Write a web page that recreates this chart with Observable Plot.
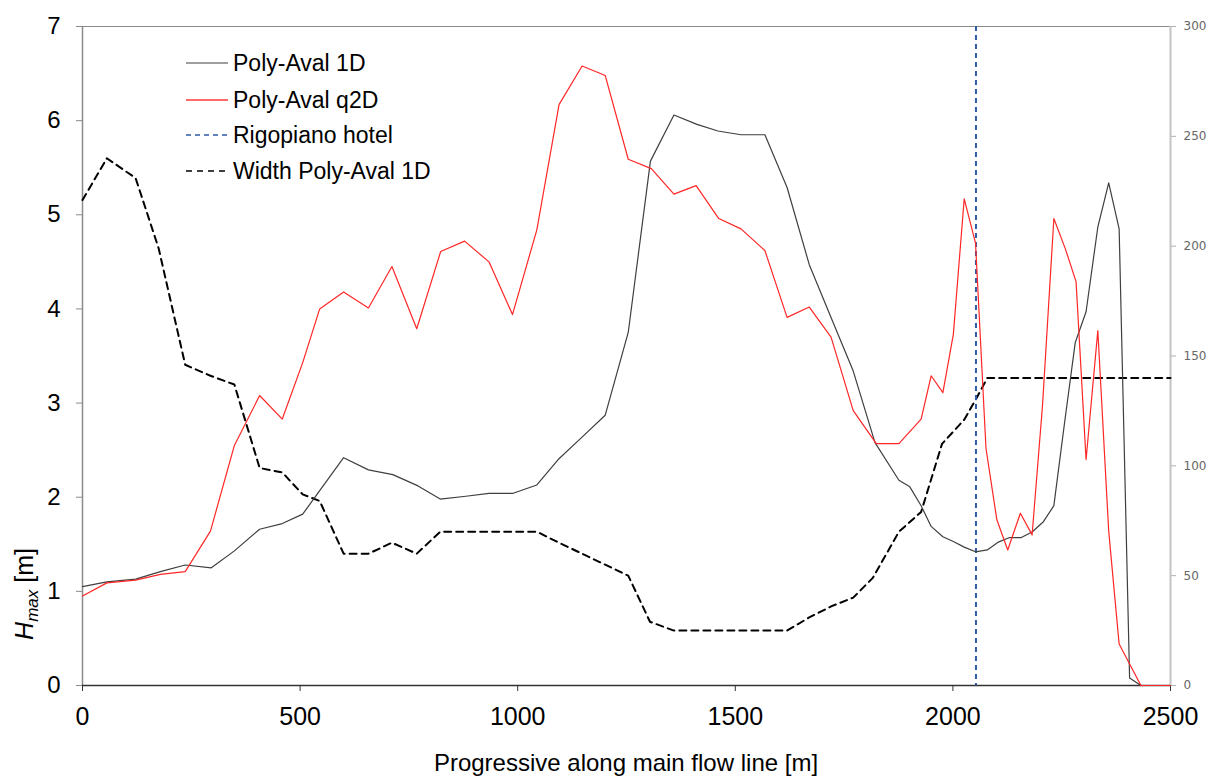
<!DOCTYPE html>
<html>
<head>
<meta charset="utf-8">
<script src="https://cdn.jsdelivr.net/npm/d3@7"></script>
<script src="https://cdn.jsdelivr.net/npm/@observablehq/plot@0.6"></script>
<style>
  body { margin: 0; background: #fff; }
  #chart { position: relative; width: 1209px; height: 778px; }
</style>
</head>
<body>
<div id="chart"></div>
<script>
// ---- Data ----
const xs1D = [0,56,122,179,236,296,349,407,459,506,545,600,657,713,771,822,881,934,988,1044,1093,1146,1201,1254,1305,1359,1412,1460,1513,1568,1619,1670,1720,1771,1821,1876,1901,1927,1950,1977,2001,2026,2052,2079,2103,2129,2156,2182,2208,2232,2256,2281,2306,2333,2358,2382,2406,2432];
const h1D  = [1.05,1.10,1.13,1.21,1.28,1.25,1.43,1.66,1.72,1.82,2.07,2.42,2.29,2.24,2.12,1.98,2.01,2.04,2.04,2.13,2.40,2.63,2.87,3.75,5.57,6.06,5.96,5.89,5.85,5.85,5.29,4.47,3.91,3.34,2.58,2.18,2.11,1.91,1.69,1.58,1.53,1.47,1.42,1.44,1.52,1.57,1.57,1.63,1.74,1.91,2.77,3.64,3.97,4.87,5.34,4.85,0.08,0];

const xs2D = [0,56,122,179,236,294,349,407,459,506,545,600,657,711,768,823,878,934,988,1044,1095,1148,1201,1254,1307,1359,1410,1462,1513,1568,1619,1670,1720,1771,1824,1876,1927,1950,1977,2001,2026,2052,2076,2101,2126,2155,2182,2206,2232,2259,2283,2306,2333,2358,2382,2432,2500];
const h2D  = [0.95,1.09,1.12,1.18,1.21,1.64,2.55,3.08,2.83,3.43,4.00,4.18,4.01,4.45,3.79,4.61,4.72,4.50,3.94,4.84,6.17,6.58,6.48,5.59,5.49,5.22,5.31,4.96,4.85,4.62,3.91,4.02,3.70,2.92,2.57,2.57,2.83,3.29,3.11,3.73,5.17,4.70,2.52,1.76,1.44,1.83,1.60,2.98,4.96,4.63,4.29,2.40,3.77,1.64,0.44,0,0];

const xsW = [0,56,122,175,236,294,349,407,459,506,545,600,657,711,768,822,1044,1095,1148,1201,1254,1304,1359,1619,1670,1720,1771,1816,1876,1927,1975,2026,2052,2079,2500];
const wW  = [221,240,231,199,146,141,137,99,97,87,84,60,60,65,60,70,70,65,60,55,50,29,25,25,31,36,40,49,70,79,110,121,130,140,140];

const hotelX = [2053];

const xTicks = [0,500,1000,1500,2000,2500];
const yTicks = [0,1,2,3,4,5,6,7];
const wTicks = [0,50,100,150,200,250,300];

const legendLabels = ["Poly-Aval 1D","Poly-Aval q2D","Rigopiano hotel","Width Poly-Aval 1D"];
const xLabel = "Progressive along main flow line [m]";

// ---- Build ----
const H_MAX = 7, W_MAX = 300;
const toY = w => w * H_MAX / W_MAX;
const d1 = xs1D.map((x, i) => ({x, y: h1D[i]}));
const d2 = xs2D.map((x, i) => ({x, y: h2D[i]}));
const dw = xsW.map((x, i) => ({x, y: toY(wW[i])}));

const C1 = "#3f3f3f", C2 = "#ff2626", CH = "#2f5aa8", CW = "#000";
const FONT = "Liberation Sans, Arial, Helvetica, sans-serif";

const plot = Plot.plot({
  width: 1209, height: 778,
  marginLeft: 82, marginRight: 39, marginTop: 26, marginBottom: 93,
  x: {domain: [0, 2500]},
  y: {domain: [0, H_MAX]},
  style: {fontFamily: FONT, fontSize: "24px", color: "#000", background: "#fff"},
  marks: [
    Plot.ruleY([H_MAX], {stroke: "#8a8a8a", strokeWidth: 1.2}),
    Plot.ruleX([0], {stroke: "#8a8a8a", strokeWidth: 1.5}),
    Plot.ruleX([2500], {stroke: "#c4c4c4", strokeWidth: 2}),
    Plot.axisY({ticks: yTicks, tickFormat: d => String(d), tickSize: 6, tickPadding: 16, label: null, stroke: "#8a8a8a", fill: "#000", fontSize: 24, fontFamily: FONT}),
    Plot.axisY({anchor: "right", ticks: wTicks.map(toY), tickFormat: d => String(Math.round(d * W_MAX / H_MAX)), tickSize: 5, tickPadding: 8, label: null, stroke: "#b0b0b0", fill: "#666", fontSize: 12, fontFamily: "DejaVu Sans, Verdana, sans-serif"}),
    Plot.axisX({ticks: xTicks, tickFormat: d => String(d), tickSize: 6, tickPadding: 16, label: null, stroke: "#333", fill: "#000", fontSize: 25, fontFamily: FONT}),
    Plot.ruleY([0], {stroke: "#333", strokeWidth: 1.5}),
    Plot.line(dw, {x: "x", y: "y", stroke: CW, strokeWidth: 2, strokeDasharray: "7,5"}),
    Plot.ruleX(hotelX, {stroke: CH, strokeWidth: 2, strokeDasharray: "5,4"}),
    Plot.line(d1, {x: "x", y: "y", stroke: C1, strokeWidth: 1.2}),
    Plot.line(d2, {x: "x", y: "y", stroke: C2, strokeWidth: 1.2})
  ]
});

document.getElementById("chart").appendChild(plot);

// ---- Extra text: axis titles and legend ----
const svg = d3.select(plot);
svg.append("text")
  .attr("x", 626).attr("y", 771)
  .attr("text-anchor", "middle")
  .attr("font-family", FONT).attr("font-size", 24).attr("fill", "#000")
  .text(xLabel);

const yl = svg.append("text")
  .attr("transform", "translate(33,594) rotate(-90)")
  .attr("text-anchor", "middle")
  .attr("font-family", FONT).attr("font-size", 25).attr("fill", "#000");
yl.append("tspan").attr("font-style", "italic").text("H");
yl.append("tspan").attr("font-style", "italic").attr("font-size", 17).attr("dy", 5).text("max");
yl.append("tspan").attr("dy", -5).text(" [m]");

const legendStyles = [
  {stroke: C1, width: 1.2, dash: null},
  {stroke: "#ff6a6a", width: 1.8, dash: null},
  {stroke: CH, width: 1.6, dash: "5,4"},
  {stroke: CW, width: 1.6, dash: "6,5"}
];
const rowsY = [63, 100, 135, 171];
const lg = svg.append("g").attr("text-anchor", "start");
legendLabels.forEach((lab, i) => {
  const s = legendStyles[i];
  const ln = lg.append("line").attr("x1", 186).attr("x2", 228).attr("y1", rowsY[i]).attr("y2", rowsY[i])
    .attr("stroke", s.stroke).attr("stroke-width", s.width);
  if (s.dash) ln.attr("stroke-dasharray", s.dash);
  lg.append("text").attr("x", 233).attr("y", rowsY[i] + 8)
    .attr("text-anchor", "start")
    .attr("font-family", FONT).attr("font-size", 23).attr("fill", "#000")
    .text(lab);
});
</script>
</body>
</html>
